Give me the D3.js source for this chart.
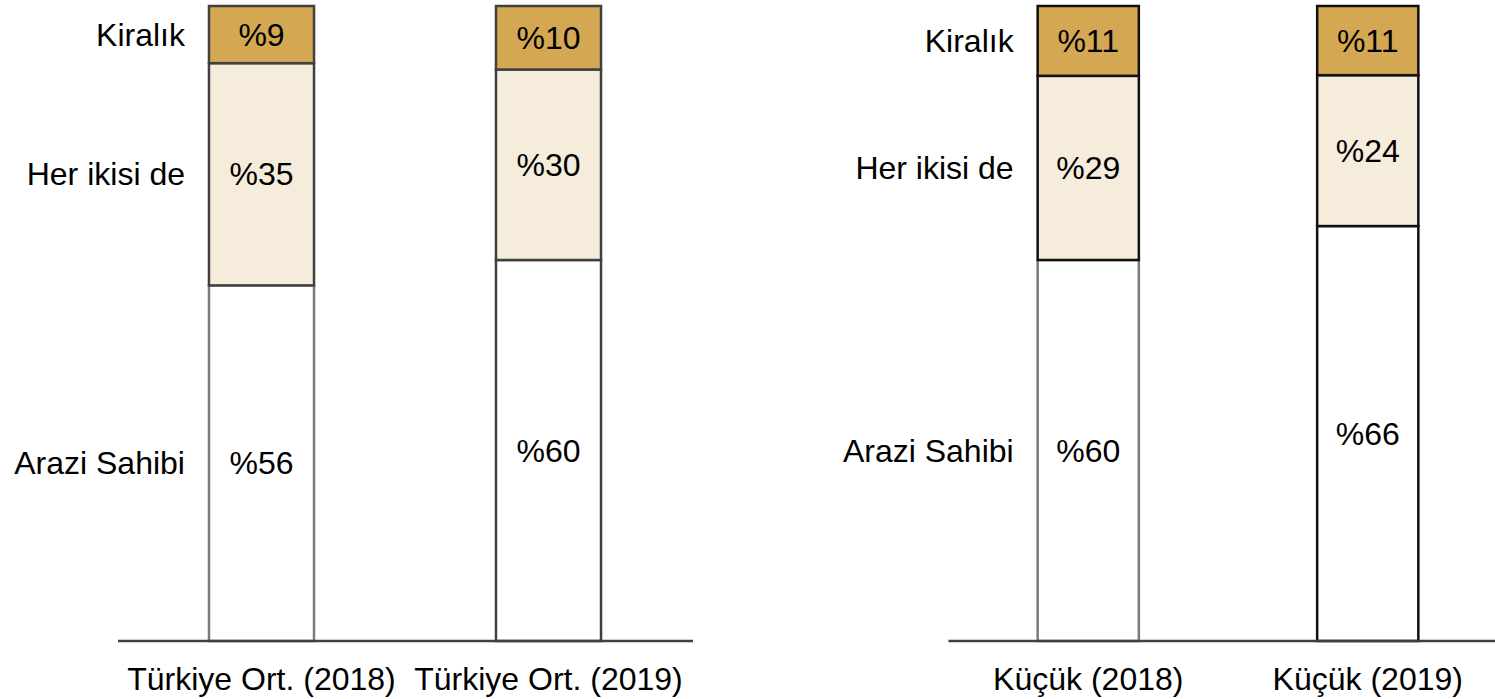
<!DOCTYPE html>
<html>
<head>
<meta charset="utf-8">
<script src="https://cdn.jsdelivr.net/npm/d3@7"></script>
<style>
  body { margin: 0; background: #fff; }
  text { font-family: "Liberation Sans", Arial, sans-serif; fill: #000; }
</style>
</head>
<body>
<div id="chart"></div>
<script>
const W = 1495, H = 699;

// data
const categories = ["Türkiye Ort. (2018)", "Türkiye Ort. (2019)", "Küçük (2018)", "Küçük (2019)"];
const seriesNames = ["Arazi Sahibi", "Her ikisi de", "Kiralık"];
const araziSahibi = [56, 60, 60, 66];
const herIkisiDe = [35, 30, 29, 24];
const kiralik = [9, 10, 11, 11];
const panelGroups = [[0, 1], [2, 3]];

const fills = { "Arazi Sahibi": "#ffffff", "Her ikisi de": "#f5ecdc", "Kiralık": "#d4a852" };
const FONT = "32px";

const rows = categories.map((c, i) => ({
  cat: c,
  "Arazi Sahibi": araziSahibi[i],
  "Her ikisi de": herIkisiDe[i],
  "Kiralık": kiralik[i]
}));

const stacked = d3.stack().keys(seriesNames).offset(d3.stackOffsetExpand)(rows);

const y = d3.scaleLinear().domain([0, 1]).range([641, 6]);

// layout of the two panels
const panels = [
  { range: [118, 692], pad: 0.634, stroke: "#404040", lineEnd: 693 },
  { range: [948.5, 1507.5], pad: 0.638, stroke: "#111111", lineEnd: 1495 }
];

const svg = d3.select("#chart").append("svg")
  .attr("width", W)
  .attr("height", H);

panelGroups.forEach((idx, p) => {
  const cfg = panels[p];
  const cats = idx.map(i => categories[i]);
  const x = d3.scaleBand()
    .domain(cats)
    .range(cfg.range)
    .paddingInner(cfg.pad)
    .paddingOuter(cfg.pad / 2);

  const g = svg.append("g").attr("class", "panel" + p);

  stacked.forEach(layer => {
    const pts = idx.map(i => ({ cat: categories[i], d: layer[i], key: layer.key, first: i === idx[0] }));

    g.selectAll(null)
      .data(pts)
      .enter()
      .append("rect")
      .attr("x", d => x(d.cat))
      .attr("y", d => y(d.d[1]))
      .attr("width", x.bandwidth())
      .attr("height", d => y(d.d[0]) - y(d.d[1]))
      .attr("fill", fills[layer.key])
      .attr("stroke", d => (d.key === "Arazi Sahibi" && d.first) ? "#7a7a7a" : cfg.stroke)
      .attr("stroke-width", 2.5);

    g.selectAll(null)
      .data(pts)
      .enter()
      .append("text")
      .attr("x", d => x(d.cat) + x.bandwidth() / 2)
      .attr("y", d => (y(d.d[0]) + y(d.d[1])) / 2)
      .attr("text-anchor", "middle")
      .attr("dominant-baseline", "central")
      .style("font-size", FONT)
      .text(d => "%" + d.d.data[d.key]);

    // series name at the left of the first bar
    const f = pts[0];
    g.append("text")
      .attr("x", x(f.cat) - 24)
      .attr("y", (y(f.d[0]) + y(f.d[1])) / 2)
      .attr("text-anchor", "end")
      .attr("dominant-baseline", "central")
      .style("font-size", FONT)
      .text(layer.key);
  });

  // bottom axis
  const ax = g.append("g")
    .attr("transform", "translate(0," + y(0) + ")")
    .call(d3.axisBottom(x).tickSize(0).tickPadding(26));
  ax.select(".domain")
    .attr("d", "M" + cfg.range[0] + ",0H" + cfg.lineEnd)
    .attr("stroke", "#404040")
    .attr("stroke-width", 2.5);
  ax.selectAll("text")
    .style("font-size", FONT)
    .style("font-family", "'Liberation Sans', Arial, sans-serif")
    .attr("fill", "#000");
});
</script>
</body>
</html>
